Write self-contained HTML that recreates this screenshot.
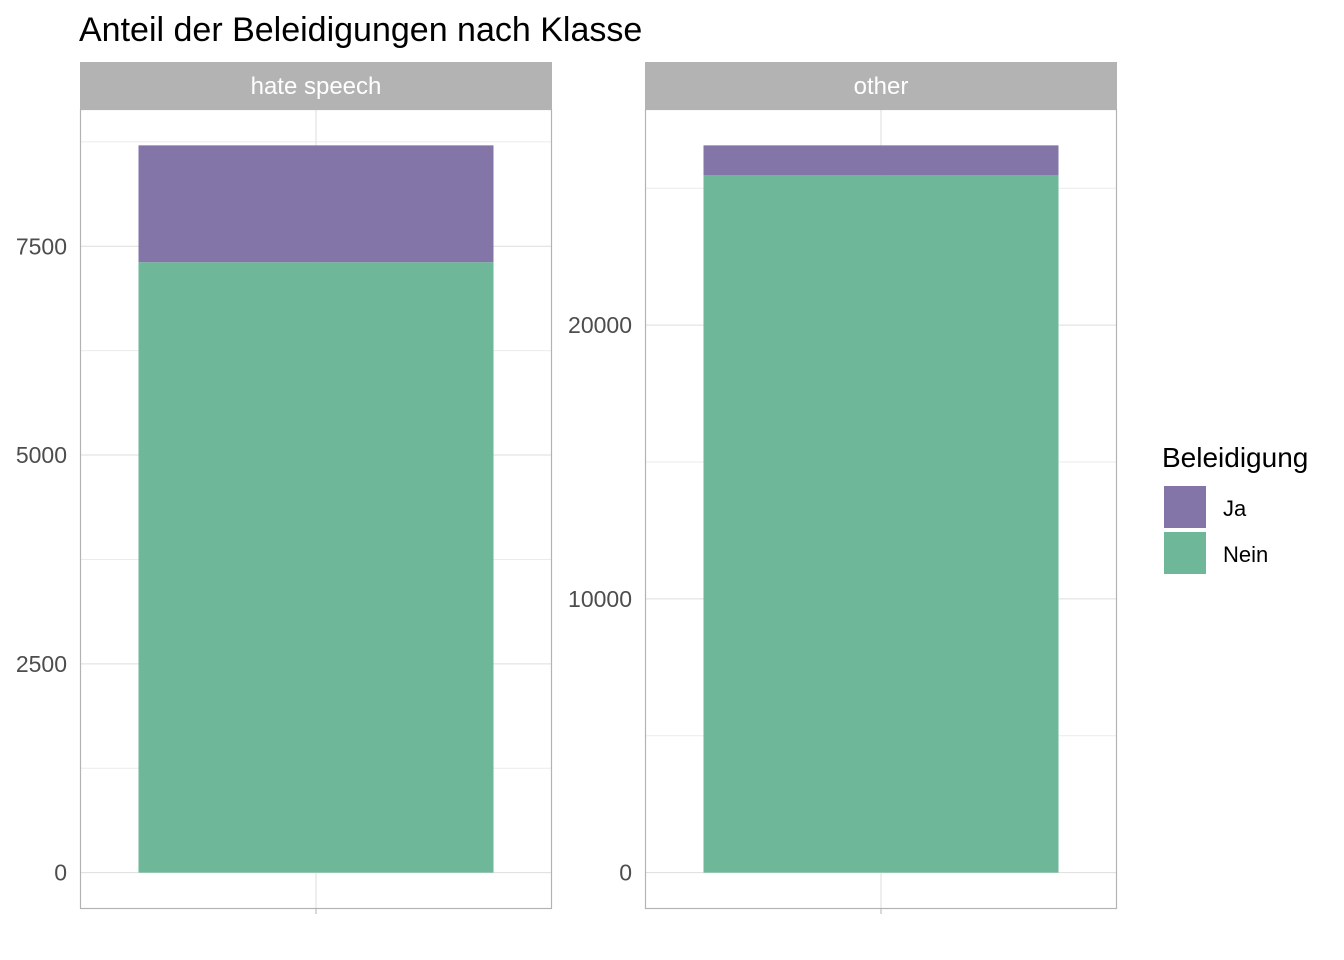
<!DOCTYPE html>
<html><head><meta charset="utf-8"><style>
html,body{margin:0;padding:0;background:#fff;}
svg{display:block;font-family:"Liberation Sans",Arial,sans-serif;}
</style></head><body>
<svg id="chart" width="1344" height="960">
<text x="79" y="41" font-size="34" fill="#000">Anteil der Beleidigungen nach Klasse</text>
<g id="panels"></g>
<g>
<text x="1162" y="467" font-size="28" fill="#000">Beleidigung</text>
<rect x="1164" y="486" width="42" height="42" fill="#8375a8"/>
<text x="1223" y="516" font-size="22">Ja</text>
<rect x="1164" y="532" width="42" height="42" fill="#6eb799"/>
<text x="1223" y="562" font-size="22">Nein</text>
</g>
</svg>
<script>
const categories = ["hate speech", "other"];
const neinValues = [7309, 25474];
const jaValues = [1399, 1095];
const majorTicks = [[0, 2500, 5000, 7500], [0, 10000, 20000]];
const minorTicks = [[1250, 3750, 6250, 8750], [5000, 15000, 25000]];

const NS = "http://www.w3.org/2000/svg";
const pg = document.getElementById("panels");
function mk(tag, attrs, parent) {
  const e = document.createElementNS(NS, tag);
  for (const k in attrs) e.setAttribute(k, attrs[k]);
  (parent || pg).appendChild(e);
  return e;
}
const panelX = [80, 645], panelW = 472, panelTop = 109, panelBottom = 909;
categories.forEach((cat, i) => {
  const x0 = panelX[i];
  const total = neinValues[i] + jaValues[i];
  const lo = -0.05 * total, hi = 1.05 * total;
  const y = v => panelBottom - (v - lo) / (hi - lo) * (panelBottom - panelTop);
  minorTicks[i].forEach(t => {
    const l = mk("line", {x1: x0, x2: x0 + panelW, y1: y(t), y2: y(t), stroke: "#ebebeb", "stroke-width": 1});
    
    
  });
  majorTicks[i].forEach(t => {
    const l = mk("line", {x1: x0, x2: x0 + panelW, y1: y(t), y2: y(t), stroke: "#dedede", "stroke-width": 1});
    
    
    const tx = mk("text", {x: x0 - 13, y: y(t) + 8, "text-anchor": "end", "font-size": 23, fill: "#4d4d4d"});
    tx.textContent = t;
    
    
  });
  const cx = x0 + panelW / 2;
  const vl = mk("line", {x1: cx, x2: cx, y1: panelTop, y2: panelBottom, stroke: "#dedede"});
  
  
  const bw = 355;
  const nein = mk("rect", {x: cx - bw / 2, y: y(neinValues[i]), width: bw, height: y(0) - y(neinValues[i]), fill: "#6eb799"});
  
  
  const ja = mk("rect", {x: cx - bw / 2, y: y(total), width: bw, height: y(neinValues[i]) - y(total), fill: "#8375a8"});
  
  
  const border = mk("rect", {x: x0 + 0.5, y: panelTop + 0.5, width: panelW - 1, height: panelBottom - panelTop - 1, fill: "none", stroke: "#b3b3b3", "stroke-width": 1.2});
  
  
  const tick = mk("line", {x1: cx, x2: cx, y1: panelBottom, y2: panelBottom + 5, stroke: "#b3b3b3"});
  
  
  const strip = mk("rect", {x: x0, y: 62, width: panelW, height: 47, fill: "#b3b3b3"});
  
  
  const st = mk("text", {x: cx, y: 94, "text-anchor": "middle", "font-size": 24, fill: "#fff"});
  st.textContent = cat;
  
  
});
</script>
</body></html>
